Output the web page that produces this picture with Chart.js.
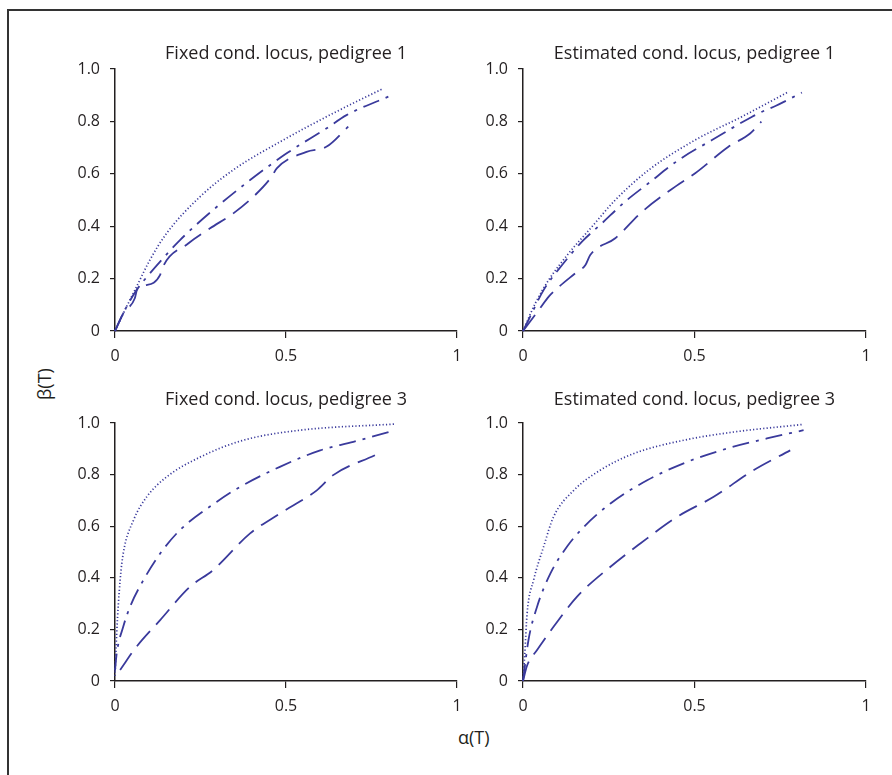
<!DOCTYPE html>
<html>
<head>
<meta charset="utf-8">
<script src="https://cdn.jsdelivr.net/npm/chart.js@4"></script>
<style>
  body { margin: 0; background: #fff; }
  #fig { position: relative; width: 892px; height: 775px; overflow: hidden; font-family: "Open Sans", sans-serif; color: #231f20; }
  #frame { position: absolute; left: 7px; top: 9px; width: 1000px; height: 1000px; border-left: 2px solid #333; border-top: 2px solid #333; }
  canvas { position: absolute; }
  .lab { position: absolute; font-size: 18px; white-space: nowrap; }
</style>
</head>
<body>
<div id="fig">
  <div class="lab" id="ylab" style="left:28px; top:372px; transform: rotate(-90deg);">β(T)</div>
  <div class="lab" id="xlab" style="left:458px; top:725px;">α(T)</div>
  <div id="frame"></div>
</div>
<script>
// titres des panneaux
const titles = [
    'Fixed cond. locus, pedigree 1',
    'Estimated cond. locus, pedigree 1',
    'Fixed cond. locus, pedigree 3',
    'Estimated cond. locus, pedigree 3'
]
const xTicks = [0, 0.5, 1]
const yTicks = [0, 0.2, 0.4, 0.6, 0.8, 1.0]

// pedigree 1, locus fixe
const p1DotX = [0, 0.034, 0.063, 0.102, 0.151, 0.249, 0.346, 0.492, 0.638, 0.785]
const p1DotY = [0, 0.093, 0.169, 0.271, 0.373, 0.513, 0.615, 0.729, 0.831, 0.926]
const p1DashDotX = [0, 0.034, 0.063, 0.102, 0.132, 0.19, 0.287, 0.395, 0.502, 0.619, 0.677, 0.809]
const p1DashDotY = [0, 0.093, 0.156, 0.22, 0.265, 0.347, 0.462, 0.576, 0.678, 0.774, 0.824, 0.90]
const p1DashX = [0, 0.024, 0.058, 0.065, 0.083, 0.132, 0.136, 0.214, 0.278, 0.346, 0.405, 0.458, 0.473, 0.56, 0.619, 0.682]
const p1DashY = [0, 0.067, 0.125, 0.16, 0.172, 0.214, 0.233, 0.334, 0.392, 0.449, 0.513, 0.589, 0.621, 0.684, 0.704, 0.78]

// pedigree 1, locus estimé
const p2DotX = [0, 0.036, 0.075, 0.133, 0.201, 0.269, 0.366, 0.502, 0.638, 0.774]
const p2DotY = [0, 0.106, 0.195, 0.296, 0.398, 0.5, 0.614, 0.729, 0.818, 0.913]
const p2DashDotX = [0, 0.016, 0.06, 0.114, 0.172, 0.23, 0.298, 0.366, 0.454, 0.551, 0.668, 0.697, 0.736, 0.813]
const p2DashDotY = [0, 0.042, 0.156, 0.252, 0.341, 0.411, 0.494, 0.564, 0.653, 0.729, 0.818, 0.837, 0.859, 0.91]
const p2DashX = [0, 0.046, 0.075, 0.094, 0.152, 0.182, 0.196, 0.269, 0.347, 0.444, 0.502, 0.599, 0.663, 0.695]
const p2DashY = [0, 0.08, 0.131, 0.156, 0.22, 0.252, 0.29, 0.354, 0.455, 0.551, 0.602, 0.703, 0.755, 0.799]

// pedigree 3, locus fixe
const p3DotX = [0, 0.005, 0.015, 0.024, 0.054, 0.093, 0.151, 0.249, 0.375, 0.541, 0.819]
const p3DotY = [0.02, 0.185, 0.391, 0.494, 0.623, 0.714, 0.791, 0.868, 0.933, 0.972, 0.996]
const p3DashDotX = [0, 0.005, 0.024, 0.044, 0.083, 0.132, 0.19, 0.297, 0.365, 0.482, 0.6, 0.697, 0.819]
const p3DashDotY = [0.04, 0.107, 0.21, 0.288, 0.391, 0.494, 0.585, 0.694, 0.752, 0.83, 0.894, 0.927, 0.972]
const p3DashX = [0.015, 0.063, 0.132, 0.219, 0.287, 0.395, 0.482, 0.59, 0.638, 0.76]
const p3DashY = [0.043, 0.133, 0.236, 0.365, 0.43, 0.572, 0.649, 0.739, 0.798, 0.875]

// pedigree 3, locus estimé
const p4DotX = [0, 0.005, 0.012, 0.031, 0.06, 0.089, 0.148, 0.225, 0.322, 0.468, 0.614, 0.813]
const p4DotY = [0, 0.1, 0.262, 0.391, 0.52, 0.636, 0.739, 0.817, 0.881, 0.933, 0.965, 0.994]
const p4DashDotX = [0, 0.016, 0.041, 0.08, 0.128, 0.177, 0.255, 0.362, 0.478, 0.595, 0.711, 0.818]
const p4DashDotY = [0, 0.159, 0.288, 0.417, 0.52, 0.597, 0.688, 0.778, 0.849, 0.901, 0.94, 0.972]
const p4DashX = [0, 0.012, 0.041, 0.089, 0.157, 0.255, 0.342, 0.449, 0.556, 0.672, 0.779]
const p4DashY = [0, 0.06, 0.12, 0.21, 0.326, 0.443, 0.533, 0.636, 0.714, 0.817, 0.894]

const panels = [
    { title: titles[0], dot: [p1DotX, p1DotY], dashDot: [p1DashDotX, p1DashDotY], dash: [p1DashX, p1DashY], box: { l: 115, t: 69, r: 457, b: 331 }, titleGap: 4 },
    { title: titles[1], dot: [p2DotX, p2DotY], dashDot: [p2DashDotX, p2DashDotY], dash: [p2DashX, p2DashY], box: { l: 523, t: 69, r: 866, b: 331 }, titleGap: 4 },
    { title: titles[2], dot: [p3DotX, p3DotY], dashDot: [p3DashDotX, p3DashDotY], dash: [p3DashX, p3DashY], box: { l: 115, t: 423, r: 457, b: 681 }, titleGap: 12 },
    { title: titles[3], dot: [p4DotX, p4DotY], dashDot: [p4DashDotX, p4DashDotY], dash: [p4DashX, p4DashY], box: { l: 523, t: 423, r: 866, b: 681 }, titleGap: 12 }
]

const lineColor = '#3a3a9c'
const inkColor = '#231f20'
const axisColor = '#231f20'
const fontFamily = '"Open Sans", sans-serif'

const Y_WIDTH = 55
const X_HEIGHT = 36
const PAD_RIGHT = 14
const PAD_BOTTOM = 2
const TITLE_LINE = 22
const TITLE_TOP = 7

const toPoints = (xs, ys) => xs.map((x, i) => ({ x: x, y: ys[i] }))

const series = (pair, dash, width) => ({
    data: toPoints(pair[0], pair[1]),
    borderColor: lineColor,
    borderWidth: width,
    borderDash: dash,
    pointRadius: 0,
    cubicInterpolationMode: 'monotone',
    clip: false,
    fill: false
})

const fig = document.getElementById('fig')

panels.forEach((p) => {
    const titleH = TITLE_LINE + TITLE_TOP + p.titleGap
    const canvas = document.createElement('canvas')
    const w = (p.box.r - p.box.l) + Y_WIDTH + PAD_RIGHT
    const h = titleH + (p.box.b - p.box.t) + X_HEIGHT + PAD_BOTTOM
    canvas.width = w
    canvas.height = h
    canvas.style.left = (p.box.l - Y_WIDTH) + 'px'
    canvas.style.top = (p.box.t - titleH) + 'px'
    canvas.style.width = w + 'px'
    canvas.style.height = h + 'px'
    fig.appendChild(canvas)

    new Chart(canvas.getContext('2d'), {
        type: 'line',
        data: {
            datasets: [
                series(p.dot, [1.2, 2.2], 1.7),
                series(p.dashDot, [17, 7, 3, 7], 1.8),
                series(p.dash, [20, 9], 1.8)
            ]
        },
        options: {
            responsive: false,
            animation: false,
            layout: { padding: { left: 0, top: 0, right: PAD_RIGHT, bottom: PAD_BOTTOM } },
            plugins: {
                legend: { display: false },
                tooltip: { enabled: false },
                title: {
                    display: true,
                    text: p.title,
                    fullSize: false,
                    color: inkColor,
                    font: { family: fontFamily, size: 18, weight: 'normal', lineHeight: TITLE_LINE / 18 },
                    padding: { top: TITLE_TOP, bottom: p.titleGap }
                }
            },
            scales: {
                x: {
                    type: 'linear',
                    min: 0,
                    max: 1,
                    afterFit: (scale) => { scale.height = X_HEIGHT },
                    afterBuildTicks: (scale) => { scale.ticks = xTicks.map(v => ({ value: v })) },
                    border: { display: true, color: axisColor, width: 1.5 },
                    grid: { drawOnChartArea: false, drawTicks: true, tickLength: 7, color: axisColor, lineWidth: 1.2 },
                    ticks: {
                        color: inkColor,
                        padding: 9,
                        maxRotation: 0,
                        font: { family: fontFamily, size: 16 },
                        callback: (v) => String(v)
                    }
                },
                y: {
                    type: 'linear',
                    min: 0,
                    max: 1,
                    afterFit: (scale) => { scale.width = Y_WIDTH },
                    afterBuildTicks: (scale) => { scale.ticks = yTicks.map(v => ({ value: v })) },
                    border: { display: true, color: axisColor, width: 1.5 },
                    grid: { drawOnChartArea: false, drawTicks: true, tickLength: 5, color: axisColor, lineWidth: 1.2 },
                    ticks: {
                        color: inkColor,
                        padding: 10,
                        font: { family: fontFamily, size: 16 },
                        callback: (v) => v === 0 ? '0' : v.toFixed(1)
                    }
                }
            }
        }
    })
})
</script>
</body>
</html>
